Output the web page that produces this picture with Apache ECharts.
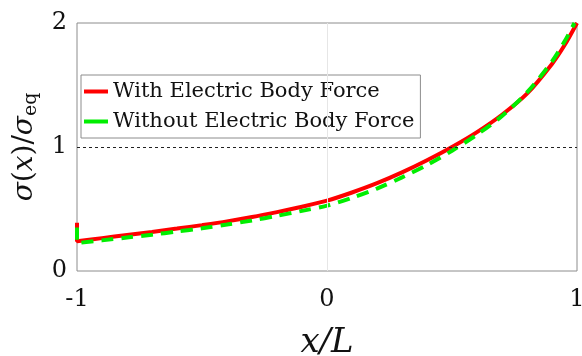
<!DOCTYPE html>
<html><head><meta charset="utf-8">
<script src="https://cdn.jsdelivr.net/npm/echarts@6/dist/echarts.min.js"></script>
<style>html,body{margin:0;padding:0;background:#fff}#c{width:582px;height:356px}</style>
</head><body><div id="c"></div>
<script>
var xTicks = [-1, 0, 1];
var yTicks = [0, 1, 2];
var seriesNames = ['With Electric Body Force', 'Without Electric Body Force'];
var xWith = [-1, -1, -0.9, -0.8, -0.7, -0.6, -0.5, -0.4, -0.3, -0.2, -0.1, 0, 0.1, 0.2, 0.3, 0.4, 0.5, 0.6, 0.7, 0.8, 0.9, 0.95, 1.0];
var yWith = [0.39, 0.24, 0.265, 0.29, 0.315, 0.342, 0.37, 0.40, 0.435, 0.475, 0.518, 0.567, 0.633, 0.708, 0.795, 0.893, 1.0, 1.12, 1.26, 1.43, 1.67, 1.82, 2.0];
var xWithout = [-1, -1, -0.9, -0.8, -0.7, -0.6, -0.5, -0.4, -0.3, -0.2, -0.1, 0, 0.1, 0.2, 0.3, 0.4, 0.5, 0.6, 0.7, 0.8, 0.9, 0.95, 0.99];
var yWithout = [0.35, 0.225, 0.247, 0.27, 0.293, 0.318, 0.345, 0.375, 0.408, 0.445, 0.485, 0.527, 0.59, 0.665, 0.755, 0.855, 0.97, 1.10, 1.25, 1.44, 1.69, 1.85, 2.0];
var refLevel = 1;
var refX = 0;

function zip(a, b) { return a.map(function (v, i) { return [v, b[i]]; }); }

var chart = echarts.init(document.getElementById('c'));
var serif = 'DejaVu Serif';
chart.setOption({
  animation: false,
  grid: { left: 77, right: 5, top: 23, bottom: 85, containLabel: false, outerBoundsMode: 'none', show: true, borderColor: '#8c8c8c', borderWidth: 1 },
  legend: {
    left: 81, top: 75, orient: 'vertical',
    data: seriesNames,
    icon: 'rect', itemWidth: 24, itemHeight: 4, itemGap: 9,
    backgroundColor: '#fff', borderColor: '#8c8c8c', borderWidth: 1,
    padding: [6, 6, 6, 3],
    textStyle: { fontFamily: serif, fontSize: 21, color: '#111', padding: [0, 0, 0, 0] }
  },
  xAxis: {
    type: 'value', min: -1, max: 1, interval: 1,
    axisLine: { show: false }, axisTick: { show: false }, splitLine: { show: false },
    axisLabel: { fontFamily: serif, fontSize: 24, color: '#111', margin: 17, formatter: function (v) { return xTicks.indexOf(v) >= 0 ? String(v) : ''; } },
    name: 'x/L', nameLocation: 'middle', nameGap: 55,
    nameTextStyle: { fontFamily: serif, fontStyle: 'italic', fontSize: 34, color: '#111' }
  },
  yAxis: {
    type: 'value', min: 0, max: 2, interval: 1,
    axisLine: { show: false }, axisTick: { show: false }, splitLine: { show: false },
    axisLabel: { fontFamily: serif, fontSize: 24, color: '#111', margin: 10, formatter: function (v) { return yTicks.indexOf(v) >= 0 ? String(v) : ''; } },
    name: '{i|σ}{r|(}{i|x}{r|)/}{i|σ}{s|eq}', nameLocation: 'middle', nameGap: 25, nameRotate: 90,
    nameTextStyle: {
      fontFamily: serif, fontSize: 28, color: '#111',
      rich: {
        i: { fontFamily: serif, fontStyle: 'italic', fontSize: 28, color: '#111' },
        r: { fontFamily: serif, fontSize: 28, color: '#111' },
        s: { fontFamily: serif, fontSize: 19, color: '#111', padding: [14, 0, 0, 0] }
      }
    }
  },
  series: [
    {
      name: seriesNames[0], type: 'line', data: zip(xWith, yWith), smooth: 0.3, showSymbol: false,
      lineStyle: { color: '#ff0000', width: 4 }, itemStyle: { color: '#ff0000' }, z: 3,
      markLine: {
        silent: true, symbol: 'none', label: { show: false },
        data: [
          { yAxis: refLevel, lineStyle: { color: '#222', type: [3, 3], width: 1 } },
          { xAxis: refX, lineStyle: { color: '#e6e6e6', type: 'solid', width: 1 } }
        ]
      }
    },
    {
      name: seriesNames[1], type: 'line', data: zip(xWithout, yWithout), smooth: 0.3, showSymbol: false,
      lineStyle: { color: '#00ee00', width: 4, type: [12, 8] }, itemStyle: { color: '#00ee00' }, z: 4
    }
  ]
});
</script></body></html>
